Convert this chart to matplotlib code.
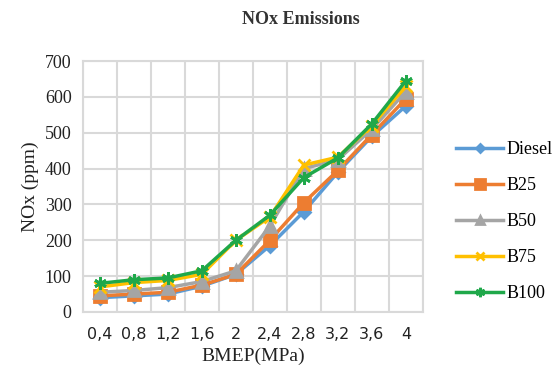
import matplotlib.pyplot as plt
import numpy as np

# BMEP categories and NOx readings (ppm)
bmep = ["0,4", "0,8", "1,2", "1,6", "2", "2,4", "2,8", "3,2", "3,6", "4"]
diesel = [40, 45, 50, 72, 105, 185, 280, 390, 490, 575]
b25 = [45, 50, 55, 75, 105, 200, 305, 395, 495, 595]
b50 = [55, 60, 68, 85, 115, 240, 400, 425, 510, 615]
b75 = [70, 82, 88, 105, 200, 265, 410, 432, 520, 630]
b100 = [80, 90, 95, 115, 200, 270, 375, 430, 525, 645]

series = [
    ("Diesel", diesel, "#5B9BD5", "D", 6),
    ("B25", b25, "#ED7D31", "s", 9),
    ("B50", b50, "#A5A5A5", "^", 8),
    ("B75", b75, "#FFC000", "x", 8),
    ("B100", b100, "#1FA84A", (6, 2, 0), 9),
]

fig = plt.figure(figsize=(5.52, 3.75), dpi=100)
ax = fig.add_axes([0.150, 0.168, 0.616, 0.669])

x = np.arange(len(bmep))
for name, vals, col, mk, ms in series:
    ax.plot(x, vals, color=col, lw=2.5, marker=mk, ms=ms, mec=col, mfc=col,
            mew=2, label=name)

ax.set_xlim(-0.5, len(bmep) - 0.5)
ax.set_ylim(0, 700)
ax.set_yticks(range(0, 701, 100))
ax.set_xticks(x)
ax.set_xticklabels(bmep, fontsize=11.5, family="DejaVu Sans", color="#222222")
ax.set_xticks(np.arange(-0.5, len(bmep), 0.5), minor=True)
ax.tick_params(axis="both", length=0)
ax.tick_params(axis="x", pad=11)
ax.tick_params(axis="y", pad=8)
ax.tick_params(axis="x", which="minor", length=0)
for lab in ax.get_yticklabels():
    lab.set_family("Liberation Serif")
    lab.set_fontsize(13)
    lab.set_color("#222222")

ax.grid(True, which="minor", axis="x", color="#D9D9D9", lw=1.5)
ax.grid(True, which="major", axis="y", color="#D9D9D9", lw=1.5)
ax.set_axisbelow(True)
for s in ax.spines.values():
    s.set_color("#D9D9D9")
    s.set_linewidth(1.5)

ax.set_ylabel("NOx (ppm)", family="Liberation Serif", fontsize=14, color="#222222")
ax.set_xlabel("BMEP(MPa)", family="Liberation Serif", fontsize=14, labelpad=4,
              color="#222222")
fig.text(0.545, 0.947, "NOx Emissions", ha="center", va="center",
         family="Liberation Serif", fontweight="bold", fontsize=13,
         color="#333333")

leg = ax.legend(loc="center left", bbox_to_anchor=(1.05, 0.36), frameon=False,
                prop={"family": "Liberation Serif", "size": 13},
                handlelength=2.6, labelspacing=1.05, handletextpad=0.2,
                markerscale=0.75)

fig.savefig("out.png", dpi=100)
